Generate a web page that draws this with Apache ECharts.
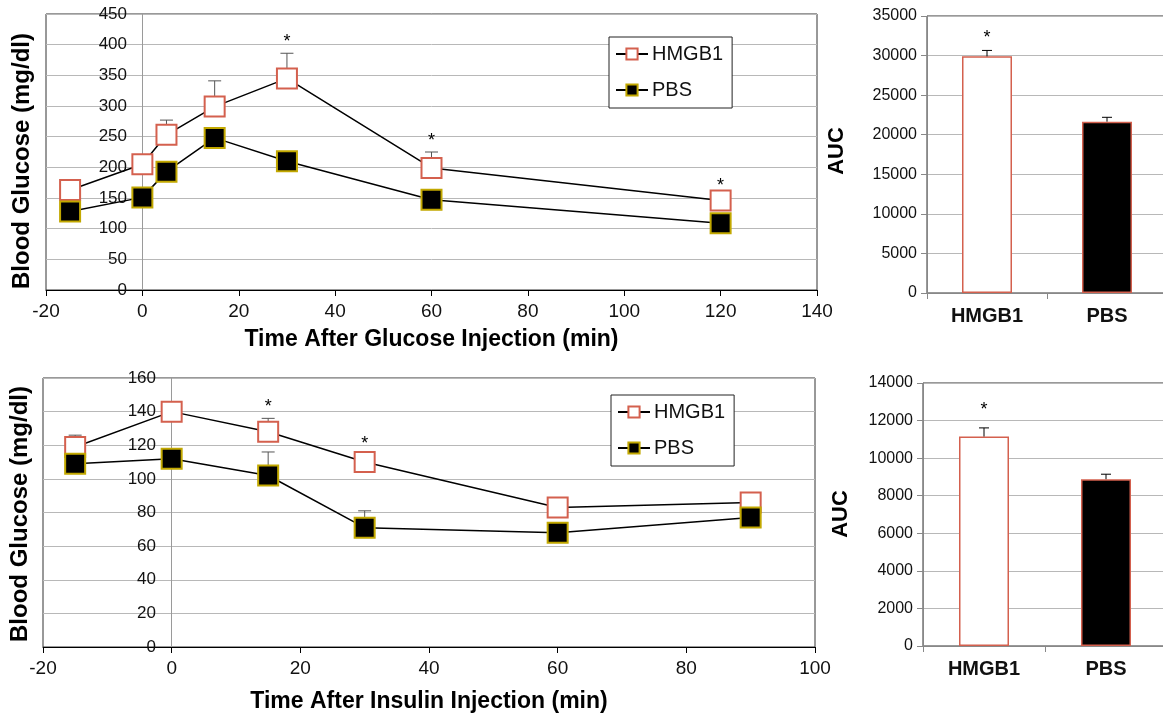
<!DOCTYPE html>
<html>
<head>
<meta charset="utf-8">
<script src="https://cdn.jsdelivr.net/npm/echarts@6/dist/echarts.min.js"></script>
<style>
html,body{margin:0;padding:0;background:#fff;}
#chart{width:1163px;height:719px;}
</style>
</head>
<body>
<div id="chart"></div>
<script>
// ---------- Data ----------
const glucoseTimes = [-15, 0, 5, 15, 30, 60, 120];
const gttHMGB1 = [163, 205, 253, 299, 345, 199, 146];
const gttHMGB1Err = [6, 6, 24, 42, 41, 26, 6];
const gttPBS = [128, 151, 193, 248, 210, 147, 109];
const gttPBSErr = [5, 5, 5, 5, 5, 5, 5];
const gttSigTimes = [30, 60, 120];

const insulinTimes = [-15, 0, 15, 30, 60, 90];
const ittHMGB1 = [119, 140, 128, 110, 83, 86];
const ittHMGB1Err = [7, 4, 8, 4, 4, 4];
const ittPBS = [109, 112, 102, 71, 68, 77];
const ittPBSErr = [4, 4, 14, 10, 4, 4];
const ittSigTimes = [15, 30];

const aucGroups = ['HMGB1', 'PBS'];
const gttAUC = [29900, 21650];
const gttAUCErr = [750, 550];
const ittAUC = [11150, 8880];
const ittAUCErr = [460, 265];
const aucSig = ['HMGB1'];

const gttYTicks = {min: 0, max: 450, interval: 50};
const gttXTicks = {min: -20, max: 140, interval: 20};
const ittYTicks = {min: 0, max: 160, interval: 20};
const ittXTicks = {min: -20, max: 100, interval: 20};
const gttAUCTicks = {min: 0, max: 35000, interval: 5000};
const ittAUCTicks = {min: 0, max: 14000, interval: 2000};

// ---------- Helpers ----------
const FONT = 'Liberation Sans, Arial, sans-serif';
const hmgbStyle = {color: '#ffffff', borderColor: '#d4604e', borderWidth: 2};
const pbsStyle = {color: '#000000', borderColor: '#c2a800', borderWidth: 2};

function pairs(xs, ys) { return xs.map((x, i) => [x, ys[i]]); }
function errData(xs, ys, es) { return xs.map((x, i) => [x, ys[i], ys[i] + es[i]]); }
function sigData(xs, ys, es, sig) {
  const out = [];
  xs.forEach((x, i) => { if (sig.indexOf(x) >= 0) out.push([x, ys[i] + es[i]]); });
  return out;
}
function errRender(capW, color) {
  return function (params, api) {
    const p0 = api.coord([api.value(0), api.value(1)]);
    const p1 = api.coord([api.value(0), api.value(2)]);
    return {
      type: 'group',
      children: [
        {type: 'line', shape: {x1: p0[0], y1: p0[1], x2: p1[0], y2: p1[1]}, style: {stroke: color, lineWidth: 1}},
        {type: 'line', shape: {x1: p1[0] - capW / 2, y1: p1[1], x2: p1[0] + capW / 2, y2: p1[1]}, style: {stroke: color, lineWidth: 1}}
      ]
    };
  };
}
function starRender(offset) {
  return function (params, api) {
    const p = api.coord([api.value(0), api.value(1)]);
    return {
      type: 'text',
      style: {text: '*', x: p[0], y: p[1] - offset, textAlign: 'center', textVerticalAlign: 'middle',
              font: '18px ' + FONT, fill: '#000'}
    };
  };
}
function lineXAxis(gi, t, name, gap) {
  return {
    type: 'value', gridIndex: gi, min: t.min, max: t.max, interval: t.interval,
    axisLine: {show: true, onZero: true, lineStyle: {color: '#000', width: 1}},
    axisTick: {show: true, length: 6, lineStyle: {color: '#000'}},
    axisLabel: {fontSize: 19, color: '#111', fontFamily: FONT, margin: 12},
    splitLine: {show: false},
    name: name, nameLocation: 'middle', nameGap: gap,
    nameTextStyle: {fontSize: 23, fontWeight: 'bold', color: '#000', fontFamily: FONT}
  };
}
function lineYAxis(gi, t, labelShift) {
  return {
    type: 'value', gridIndex: gi, min: t.min, max: t.max, interval: t.interval,
    axisLine: {show: true, onZero: true, lineStyle: {color: '#9a9a9a', width: 1}},
    axisTick: {show: false},
    axisLabel: {fontSize: 17, color: '#111', fontFamily: FONT, margin: -labelShift, align: 'right'},
    splitLine: {show: true, lineStyle: {color: '#b8b8b8', width: 1}}
  };
}
function barXAxis(gi) {
  return {
    type: 'category', gridIndex: gi, data: aucGroups,
    axisLine: {show: true, lineStyle: {color: '#888'}},
    axisTick: {show: true, length: 6, lineStyle: {color: '#888'}},
    axisLabel: {fontSize: 20, fontWeight: 'bold', color: '#111', fontFamily: FONT, margin: 13},
    splitLine: {show: false}
  };
}
function barYAxis(gi, t) {
  return {
    type: 'value', gridIndex: gi, min: t.min, max: t.max, interval: t.interval,
    axisLine: {show: true, lineStyle: {color: '#888'}},
    axisTick: {show: true, length: 6, lineStyle: {color: '#888'}},
    axisLabel: {fontSize: 16, color: '#111', fontFamily: FONT, margin: 10, formatter: v => String(v)},
    splitLine: {show: true, lineStyle: {color: '#b8b8b8', width: 1}}
  };
}
function legendAt(left, top) {
  return {
    data: ['HMGB1', 'PBS'], orient: 'vertical', left: left, top: top,
    backgroundColor: '#fff', borderColor: '#222', borderWidth: 1,
    padding: [7, 9, 8, 6], itemGap: 16, itemWidth: 32, itemHeight: 14,
    selectedMode: false,
    textStyle: {fontSize: 20, color: '#111', fontFamily: FONT, padding: [0, 0, 0, -1]}
  };
}
const barColors = ['#ffffff', '#000000'];
const gridBase = {show: true, borderColor: '#333', borderWidth: 1, outerBoundsMode: 'none', containLabel: false};

const option = {
  animation: false,
  backgroundColor: '#fff',
  grid: [
    Object.assign({left: 46, top: 14, width: 771, height: 276}, gridBase),
    Object.assign({left: 927, top: 16, width: 240, height: 277}, gridBase),
    Object.assign({left: 43, top: 378, width: 772, height: 269}, gridBase),
    Object.assign({left: 923, top: 383, width: 244, height: 263}, gridBase)
  ],
  xAxis: [
    lineXAxis(0, gttXTicks, 'Time After Glucose Injection (min)', 38),
    barXAxis(1),
    lineXAxis(2, ittXTicks, 'Time After Insulin Injection (min)', 43),
    barXAxis(3)
  ],
  yAxis: [
    lineYAxis(0, gttYTicks, 81),
    barYAxis(1, gttAUCTicks),
    lineYAxis(2, ittYTicks, 113),
    barYAxis(3, ittAUCTicks)
  ],
  legend: [legendAt(609, 37), legendAt(611, 395)],
  graphic: [
    {type: 'text', x: 22, y: 161, rotation: Math.PI / 2,
     style: {text: 'Blood Glucose (mg/dl)', font: 'bold 24px ' + FONT, fill: '#000', textAlign: 'center', textVerticalAlign: 'middle'}},
    {type: 'text', x: 20, y: 514, rotation: Math.PI / 2,
     style: {text: 'Blood Glucose (mg/dl)', font: 'bold 24px ' + FONT, fill: '#000', textAlign: 'center', textVerticalAlign: 'middle'}},
    {type: 'text', x: 837, y: 151, rotation: Math.PI / 2,
     style: {text: 'AUC', font: 'bold 22px ' + FONT, fill: '#000', textAlign: 'center', textVerticalAlign: 'middle'}},
    {type: 'text', x: 841, y: 514, rotation: Math.PI / 2,
     style: {text: 'AUC', font: 'bold 22px ' + FONT, fill: '#000', textAlign: 'center', textVerticalAlign: 'middle'}}
  ],
  series: [
    // GTT error bars
    {type: 'custom', name: 'gttErrH', xAxisIndex: 0, yAxisIndex: 0, z: 1, renderItem: errRender(13, '#555'),
     encode: {x: 0, y: 1}, data: errData(glucoseTimes, gttHMGB1, gttHMGB1Err)},
    {type: 'custom', name: 'gttErrP', xAxisIndex: 0, yAxisIndex: 0, z: 1, renderItem: errRender(13, '#555'),
     encode: {x: 0, y: 1}, data: errData(glucoseTimes, gttPBS, gttPBSErr)},
    {type: 'line', name: 'HMGB1', xAxisIndex: 0, yAxisIndex: 0, z: 3, data: pairs(glucoseTimes, gttHMGB1),
     symbol: 'rect', symbolSize: 20, itemStyle: hmgbStyle, lineStyle: {color: '#000', width: 1.5}},
    {type: 'line', name: 'PBS', xAxisIndex: 0, yAxisIndex: 0, z: 3, data: pairs(glucoseTimes, gttPBS),
     symbol: 'rect', symbolSize: 20, itemStyle: pbsStyle, lineStyle: {color: '#000', width: 1.5}},
    {type: 'custom', name: 'gttSig', xAxisIndex: 0, yAxisIndex: 0, z: 4, renderItem: starRender(11),
     encode: {x: 0, y: 1}, data: sigData(glucoseTimes, gttHMGB1, gttHMGB1Err, gttSigTimes)},

    // GTT AUC
    {type: 'bar', name: 'gttAUC', xAxisIndex: 1, yAxisIndex: 1, z: 2, barWidth: 50,
     data: gttAUC.map((v, i) => ({value: v, itemStyle: {color: barColors[i], borderColor: '#d4604e', borderWidth: 1.5}}))},
    {type: 'custom', name: 'gttAUCErr', xAxisIndex: 1, yAxisIndex: 1, z: 3, renderItem: errRender(10, '#000'),
     encode: {x: 0, y: 1}, data: gttAUC.map((v, i) => [i, v, v + gttAUCErr[i]])},
    {type: 'custom', name: 'gttAUCSig', xAxisIndex: 1, yAxisIndex: 1, z: 4, renderItem: starRender(12),
     encode: {x: 0, y: 1}, data: gttAUC.map((v, i) => [i, v + gttAUCErr[i]]).filter((d, i) => aucSig.indexOf(aucGroups[i]) >= 0)},

    // ITT error bars
    {type: 'custom', name: 'ittErrH', xAxisIndex: 2, yAxisIndex: 2, z: 1, renderItem: errRender(13, '#555'),
     encode: {x: 0, y: 1}, data: errData(insulinTimes, ittHMGB1, ittHMGB1Err)},
    {type: 'custom', name: 'ittErrP', xAxisIndex: 2, yAxisIndex: 2, z: 1, renderItem: errRender(13, '#555'),
     encode: {x: 0, y: 1}, data: errData(insulinTimes, ittPBS, ittPBSErr)},
    {type: 'line', name: 'HMGB1', xAxisIndex: 2, yAxisIndex: 2, z: 3, data: pairs(insulinTimes, ittHMGB1),
     symbol: 'rect', symbolSize: 20, itemStyle: hmgbStyle, lineStyle: {color: '#000', width: 1.5}},
    {type: 'line', name: 'PBS', xAxisIndex: 2, yAxisIndex: 2, z: 3, data: pairs(insulinTimes, ittPBS),
     symbol: 'rect', symbolSize: 20, itemStyle: pbsStyle, lineStyle: {color: '#000', width: 1.5}},
    {type: 'custom', name: 'ittSig', xAxisIndex: 2, yAxisIndex: 2, z: 4, renderItem: starRender(11),
     encode: {x: 0, y: 1}, data: sigData(insulinTimes, ittHMGB1, ittHMGB1Err, ittSigTimes)},

    // ITT AUC
    {type: 'bar', name: 'ittAUC', xAxisIndex: 3, yAxisIndex: 3, z: 2, barWidth: 50,
     data: ittAUC.map((v, i) => ({value: v, itemStyle: {color: barColors[i], borderColor: '#d4604e', borderWidth: 1.5}}))},
    {type: 'custom', name: 'ittAUCErr', xAxisIndex: 3, yAxisIndex: 3, z: 3, renderItem: errRender(10, '#000'),
     encode: {x: 0, y: 1}, data: ittAUC.map((v, i) => [i, v, v + ittAUCErr[i]])},
    {type: 'custom', name: 'ittAUCSig', xAxisIndex: 3, yAxisIndex: 3, z: 4, renderItem: starRender(18),
     encode: {x: 0, y: 1}, data: ittAUC.map((v, i) => [i, v + ittAUCErr[i]]).filter((d, i) => aucSig.indexOf(aucGroups[i]) >= 0)}
  ]
};

const chart = echarts.init(document.getElementById('chart'), null, {renderer: 'canvas'});
chart.setOption(option);
</script>
</body>
</html>
